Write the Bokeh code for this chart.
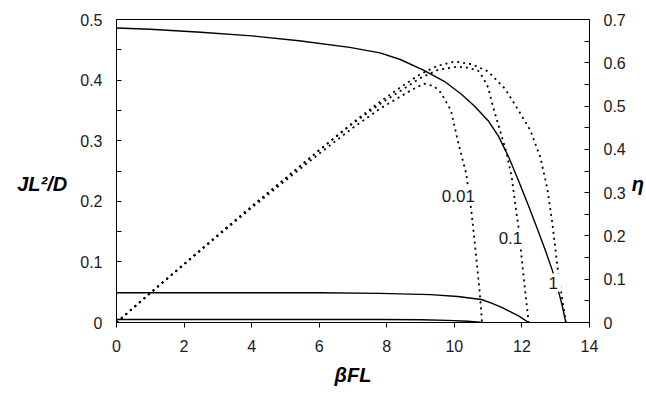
from bokeh.plotting import figure
from bokeh.models import Range1d, LinearAxis, FixedTicker, CustomJSTickFormatter
from bokeh.core.properties import value
from bokeh.embed import file_html
from bokeh.resources import INLINE

# ---- data ----
# JL^2/D (left axis), solid curves
j1_x = [0, 1.0, 2.5, 4.0, 5.4, 6.9, 7.8, 8.4, 9.1, 9.7, 10.2, 10.6, 11.0, 11.3, 11.6, 11.9, 12.2, 12.5, 12.7, 12.9, 13.1, 13.2, 13.3]
j1_y = [0.486, 0.484, 0.479, 0.473, 0.465, 0.454, 0.445, 0.434, 0.416, 0.398, 0.377, 0.357, 0.333, 0.308, 0.274, 0.234, 0.192, 0.148, 0.118, 0.086, 0.048, 0.026, 0.0]

j01_x = [0, 2, 4, 6, 7.8, 9.3, 10.1, 10.8, 11.1, 11.4, 11.65, 11.9, 12.2]
j01_y = [0.049, 0.049, 0.049, 0.049, 0.048, 0.046, 0.043, 0.038, 0.032, 0.025, 0.018, 0.011, 0.0]

j001_x = [0, 4, 7.8, 9.0, 9.8, 10.4, 10.85]
j001_y = [0.005, 0.005, 0.005, 0.0045, 0.0035, 0.002, 0.0]

# eta (right axis), dotted curves
e1_x = [0, 1, 2, 3, 4, 5, 6, 7, 7.8, 8.4, 9.0, 9.5, 10.0, 10.5, 11.0, 11.5, 11.9, 12.25, 12.55, 12.75, 12.9, 13.05, 13.2, 13.3]
e1_y = [0, 0.068, 0.135, 0.202, 0.268, 0.333, 0.398, 0.462, 0.51, 0.543, 0.574, 0.593, 0.603, 0.597, 0.580, 0.540, 0.490, 0.444, 0.380, 0.310, 0.230, 0.130, 0.050, 0.0]

e01_x = [0, 1, 2, 3, 4, 5, 6, 7, 7.8, 8.4, 9.0, 9.5, 10.0, 10.3, 10.7, 10.85, 11.0, 11.15, 11.35, 11.55, 11.7, 11.8, 11.9, 12.0, 12.1, 12.2]
e01_y = [0, 0.068, 0.135, 0.202, 0.268, 0.333, 0.398, 0.460, 0.505, 0.535, 0.565, 0.583, 0.590, 0.590, 0.582, 0.566, 0.543, 0.497, 0.444, 0.390, 0.335, 0.275, 0.220, 0.143, 0.070, 0.0]

e001_x = [0, 1, 2, 3, 4, 5, 6, 7, 7.8, 8.4, 8.8, 9.1, 9.4, 9.6, 9.9, 10.1, 10.35, 10.5, 10.65, 10.75, 10.82]
e001_y = [0, 0.068, 0.134, 0.200, 0.265, 0.328, 0.390, 0.450, 0.494, 0.522, 0.540, 0.552, 0.546, 0.531, 0.490, 0.420, 0.344, 0.260, 0.150, 0.070, 0.0]

curve_labels = ["0.01", "0.1", "1"]
label_x = [10.12, 11.66, 12.93]
label_y = [0.208, 0.140, 0.066]

x_ticks = [0, 2, 4, 6, 8, 10, 12, 14]
left_ticks = [0, 0.1, 0.2, 0.3, 0.4, 0.5]
left_minor = [0.05, 0.15, 0.25, 0.35, 0.45]
right_ticks = [0, 0.1, 0.2, 0.3, 0.4, 0.5, 0.6, 0.7]
right_minor = [0.05, 0.15, 0.25, 0.35, 0.45, 0.55, 0.65]

FONT = "Liberation Sans"

p = figure(frame_width=473, frame_height=303,
           x_range=Range1d(0, 14), y_range=Range1d(0, 0.5),
           output_backend="svg", toolbar_location=None,
           min_border_left=116, min_border_right=57,
           min_border_top=19, min_border_bottom=73,
           background_fill_color="white", border_fill_color="white")
p.extra_y_ranges = {"eta": Range1d(0, 0.7)}
p.xgrid.visible = False
p.ygrid.visible = False
p.outline_line_color = "black"
p.outline_line_width = 1

right = LinearAxis(y_range_name="eta")
p.add_layout(right, "right")

fmt = CustomJSTickFormatter(code="return tick == 0 ? '0' : tick.toFixed(1);")

xa = p.xaxis[0]
xa.ticker = FixedTicker(ticks=x_ticks, minor_ticks=[])
xa.major_tick_in = 0
xa.major_tick_out = 5
xa.minor_tick_in = 0
xa.minor_tick_out = 0
xa.axis_label = "βFL"
xa.axis_label_standoff = 9
xa.major_label_standoff = 12

ya = p.yaxis[0]
ya.ticker = FixedTicker(ticks=left_ticks, minor_ticks=left_minor)
ya.formatter = fmt
ya.axis_label = "\nJL²/D"
ya.axis_label_orientation = "horizontal"
ya.axis_label_standoff = 10

right.ticker = FixedTicker(ticks=right_ticks, minor_ticks=right_minor)
right.formatter = fmt
right.axis_label = "\nη"
right.axis_label_orientation = "horizontal"
right.axis_label_standoff = 3

for ax in (ya, right):
    ax.major_tick_in = 5
    ax.major_tick_out = 0
    ax.minor_tick_in = 5
    ax.minor_tick_out = 0
    ax.major_label_standoff = 14

for ax in (xa, ya, right):
    ax.axis_line_color = "black"
    ax.axis_line_width = 1
    ax.major_tick_line_color = "black"
    ax.minor_tick_line_color = "black"
    ax.major_label_text_font = FONT
    ax.major_label_text_font_size = "16px"
    ax.major_label_text_color = "#1a1a1a"
    ax.axis_label_text_font = FONT
    ax.axis_label_text_font_size = "20px"
    ax.axis_label_text_font_style = "bold italic"
    ax.axis_label_text_color = "black"

# solid curves (left axis)
for xs, ys in ((j1_x, j1_y), (j01_x, j01_y), (j001_x, j001_y)):
    p.line(xs, ys, line_color="black", line_width=1.4)

# dotted curves (right axis)
for xs, ys in ((e1_x, e1_y), (e01_x, e01_y), (e001_x, e001_y)):
    p.line(xs, ys, line_color="black", line_width=1.8, line_dash="2 4",
           y_range_name="eta")

p.text(x=label_x, y=label_y, text=curve_labels,
       text_font=value(FONT), text_font_size="17px", text_color="#1a1a1a",
       text_align="center", text_baseline="middle",
       background_fill_color="white", padding=3)

open("out.html", "w").write(file_html(p, INLINE))
